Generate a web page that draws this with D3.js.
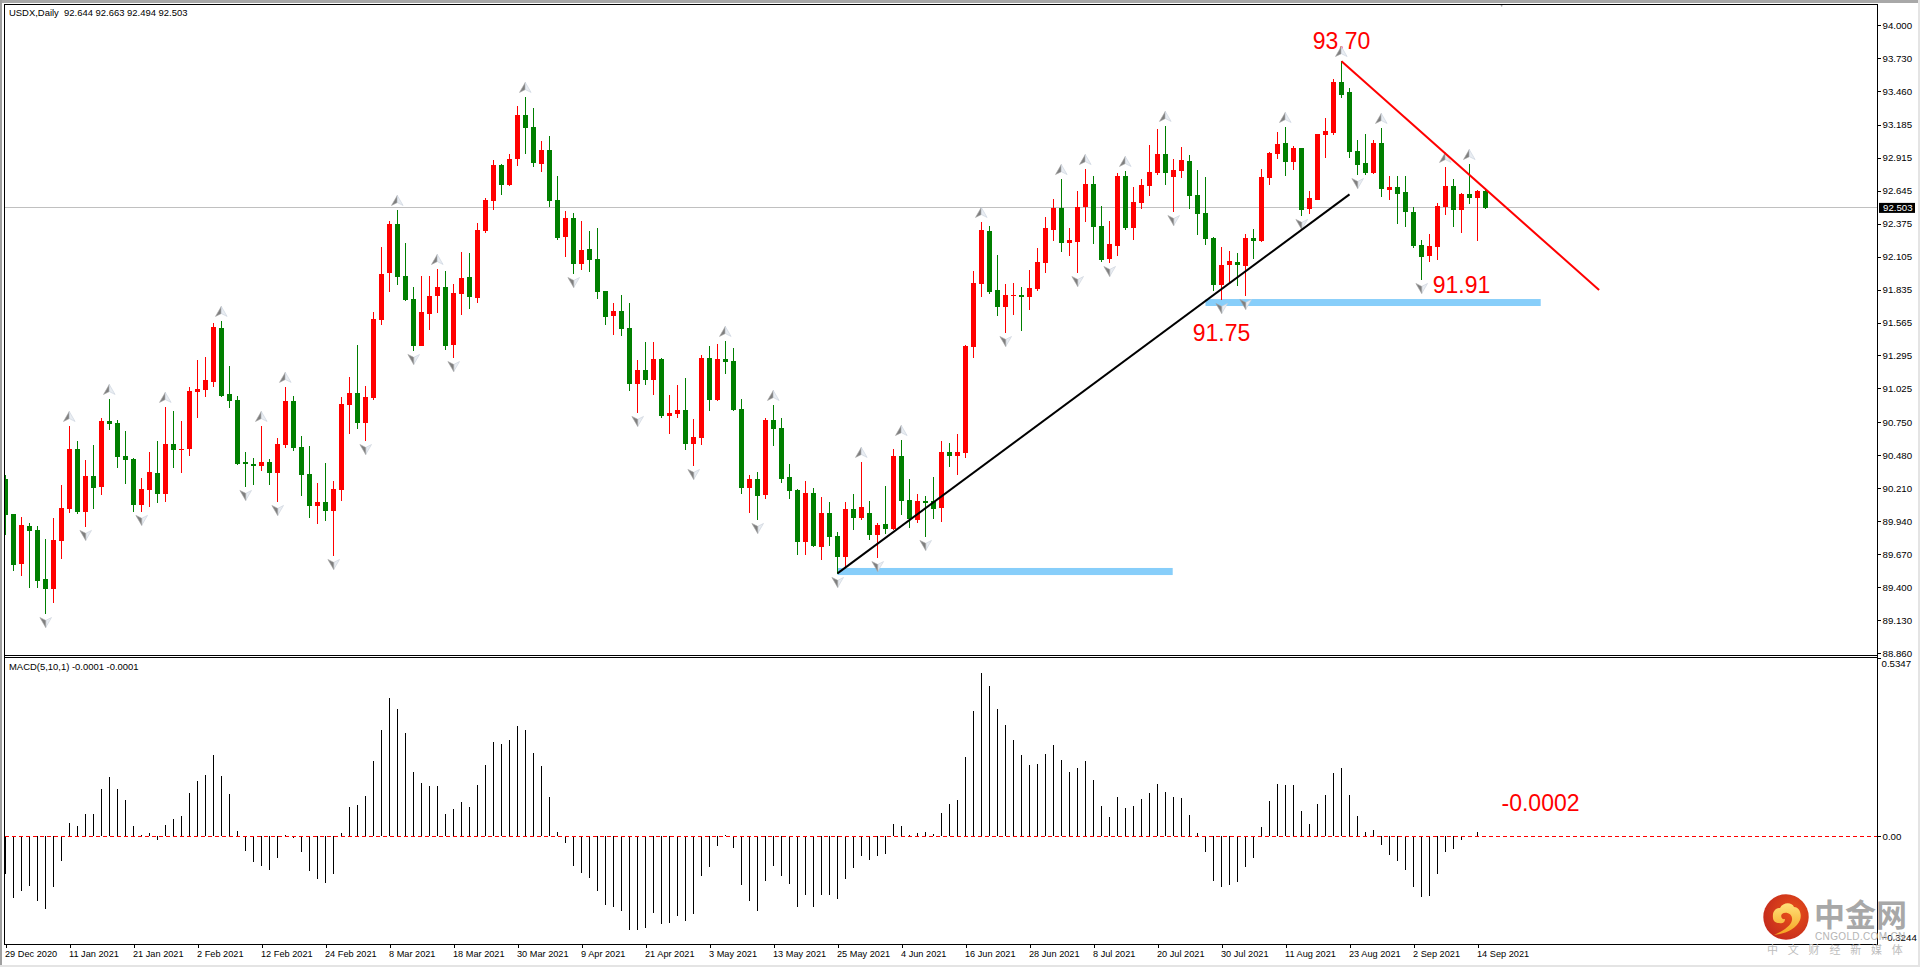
<!DOCTYPE html>
<html><head><meta charset="utf-8">
<script src="https://cdn.jsdelivr.net/npm/d3@7/dist/d3.min.js"></script>
<style>
html,body{margin:0;padding:0;background:#fff;overflow:hidden}
svg{display:block}
text{font-family:"Liberation Sans",Arial,sans-serif;fill:#000}
</style></head><body>
<svg id="c" width="1920" height="967"></svg>
<script>
const title = "USDX,Daily  92.644 92.663 92.494 92.503";
const macdTitle = "MACD(5,10,1) -0.0001 -0.0001";
const dateLabels = ["29 Dec 2020","11 Jan 2021","21 Jan 2021","2 Feb 2021","12 Feb 2021","24 Feb 2021","8 Mar 2021","18 Mar 2021","30 Mar 2021","9 Apr 2021","21 Apr 2021","3 May 2021","13 May 2021","25 May 2021","4 Jun 2021","16 Jun 2021","28 Jun 2021","8 Jul 2021","20 Jul 2021","30 Jul 2021","11 Aug 2021","23 Aug 2021","2 Sep 2021","14 Sep 2021"];
const priceTicks = [94.000,93.730,93.460,93.185,92.915,92.645,92.375,92.105,91.835,91.565,91.295,91.025,90.750,90.480,90.210,89.940,89.670,89.400,89.130,88.860];
const macdTicks = [0.5347,0,-0.3244];
const lastPrice = 92.503;

const opens = [
90.284,89.998,89.588,89.900,89.867,89.465,89.383,89.777,90.038,90.530,
90.015,90.309,90.219,90.759,90.742,90.473,90.448,90.071,90.194,90.333,
90.161,90.570,90.522,90.530,90.997,91.013,91.079,91.520,90.980,90.931,
90.424,90.407,90.391,90.424,90.333,90.562,90.923,90.546,90.325,90.063,
90.096,90.023,90.194,90.890,90.988,90.742,90.948,91.586,91.970,92.371,
91.946,91.757,91.373,91.635,91.782,91.856,91.381,91.799,91.938,91.766,
92.314,92.560,92.854,92.691,92.903,93.263,93.165,92.862,92.977,92.568,
92.265,92.420,92.044,92.167,92.085,91.823,91.618,91.659,91.520,91.062,
91.176,91.095,91.266,90.800,90.816,90.849,90.570,90.620,91.274,90.931,
91.266,91.250,90.857,90.211,90.284,90.153,90.767,90.702,90.301,90.194,
89.769,90.169,89.728,90.006,89.818,89.646,90.038,89.965,90.006,89.826,
89.916,89.875,90.473,90.112,89.949,90.104,90.104,90.047,90.506,90.473,
90.498,91.365,91.880,92.314,91.831,91.692,91.782,91.790,91.774,91.840,
92.052,92.322,92.502,92.216,92.224,92.511,92.699,92.355,92.085,92.191,
92.764,92.338,92.543,92.682,92.789,92.944,92.756,92.805,92.887,92.609,
92.461,92.256,91.872,92.036,92.060,92.028,92.256,92.232,92.748,92.944,
93.034,92.879,92.993,92.494,92.568,93.100,93.116,93.534,93.452,92.969,
92.871,92.789,93.034,92.650,92.674,92.633,92.470,92.199,92.109,92.183,
92.511,92.682,92.486,92.617,92.584,92.644];
const closes = [
89.990,89.580,89.908,89.859,89.449,89.383,89.785,90.047,90.530,90.015,
90.309,90.211,90.759,90.734,90.465,90.440,90.071,90.202,90.342,90.161,
90.570,90.522,90.530,91.005,91.021,91.095,91.529,90.964,90.923,90.407,
90.407,90.391,90.424,90.333,90.570,90.923,90.538,90.317,90.063,90.096,
90.023,90.202,90.898,90.988,90.742,90.956,91.594,91.962,92.371,91.938,
91.749,91.373,91.651,91.782,91.856,91.373,91.807,91.929,91.774,92.322,
92.568,92.854,92.691,92.903,93.263,93.157,92.871,92.977,92.560,92.256,
92.420,92.044,92.159,92.077,91.815,91.610,91.659,91.512,91.062,91.176,
91.095,91.266,90.800,90.825,90.849,90.570,90.628,91.274,90.931,91.266,
91.242,90.849,90.211,90.284,90.145,90.767,90.693,90.284,90.186,89.769,
90.169,89.736,90.006,89.810,89.646,90.038,89.965,90.055,89.826,89.908,
89.875,90.473,90.104,89.957,90.104,90.088,90.038,90.506,90.473,90.506,
91.373,91.889,92.322,91.815,91.692,91.790,91.790,91.774,91.848,92.060,
92.338,92.502,92.216,92.240,92.511,92.699,92.347,92.077,92.208,92.764,
92.338,92.551,92.691,92.797,92.944,92.789,92.813,92.895,92.600,92.453,
92.248,91.872,92.036,92.069,92.036,92.256,92.232,92.756,92.952,93.026,
92.879,92.993,92.486,92.584,93.108,93.133,93.534,93.427,92.960,92.854,
92.789,93.034,92.658,92.674,92.617,92.470,92.191,92.101,92.191,92.519,
92.682,92.486,92.617,92.584,92.642,92.503];
const highs = [
90.317,89.998,89.974,89.924,89.900,89.793,89.965,90.235,90.718,90.595,
90.440,90.562,90.783,90.939,90.767,90.677,90.457,90.292,90.506,90.595,
90.874,90.841,90.759,91.038,91.258,91.283,91.561,91.578,91.209,90.964,
90.506,90.457,90.718,90.448,90.620,91.038,90.964,90.636,90.554,90.251,
90.415,90.268,90.956,91.119,91.381,91.046,91.651,92.183,92.396,92.486,
92.216,91.856,91.946,91.946,92.003,91.987,91.880,92.142,92.134,92.380,
92.584,92.895,92.862,92.944,93.337,93.411,93.320,93.051,93.092,92.764,
92.478,92.461,92.396,92.314,92.338,91.823,91.725,91.790,91.725,91.258,
91.406,91.406,91.274,90.972,91.054,91.111,90.775,91.299,91.373,91.389,
91.414,91.356,90.939,90.317,90.342,90.783,90.890,90.783,90.407,90.202,
90.268,90.211,90.137,90.096,89.851,90.096,90.161,90.424,90.104,89.924,
90.227,90.530,90.603,90.284,90.161,90.145,90.301,90.595,90.579,90.652,
91.381,91.987,92.388,92.355,92.118,91.880,91.888,91.856,91.995,92.175,
92.428,92.576,92.739,92.338,92.641,92.821,92.764,92.519,92.396,92.789,
92.805,92.674,92.739,93.018,93.149,93.174,92.903,93.001,92.936,92.813,
92.756,92.265,92.183,92.150,92.134,92.290,92.330,92.821,92.960,93.124,
93.165,93.010,92.993,92.641,93.108,93.239,93.558,93.705,93.484,93.059,
93.108,93.059,93.157,92.764,92.764,92.764,92.511,92.240,92.289,92.543,
92.838,92.739,92.625,92.862,92.650,92.663];
const lows = [
89.826,89.531,89.490,89.392,89.392,89.179,89.269,89.629,90.006,89.998,
89.892,90.038,90.153,90.685,90.374,90.243,90.015,90.015,90.055,90.088,
90.096,90.374,90.333,90.473,90.783,90.956,91.038,90.956,90.866,90.399,
90.219,90.235,90.350,90.235,90.096,90.538,90.514,90.145,89.965,89.916,
89.941,89.654,90.104,90.652,90.693,90.595,90.931,91.545,91.815,91.872,
91.741,91.332,91.373,91.504,91.643,91.340,91.274,91.627,91.676,91.725,
92.298,92.486,92.609,92.682,92.846,92.944,92.838,92.797,92.511,92.240,
92.101,91.962,91.995,91.979,91.757,91.545,91.463,91.455,91.005,90.825,
91.054,90.972,90.783,90.652,90.783,90.522,90.391,90.562,90.841,90.923,
91.144,90.841,90.161,90.006,89.949,90.120,90.554,90.251,90.120,89.662,
89.662,89.728,89.621,89.736,89.507,89.555,89.867,89.949,89.785,89.637,
89.834,89.867,89.990,89.883,89.924,89.810,89.957,89.933,90.383,90.317,
90.457,91.274,91.774,91.799,91.618,91.479,91.627,91.496,91.667,91.823,
91.970,92.232,92.142,92.109,91.970,92.388,92.208,92.060,92.052,92.109,
92.322,92.240,92.494,92.600,92.772,92.691,92.469,92.748,92.494,92.281,
92.200,91.823,91.749,91.880,91.864,91.782,92.085,92.224,92.691,92.903,
92.764,92.813,92.437,92.453,92.568,92.911,93.100,93.403,92.911,92.772,
92.772,92.781,92.592,92.568,92.372,92.347,92.175,91.913,92.060,92.077,
92.445,92.347,92.298,92.535,92.232,92.494];
const macd = [
-0.113,-0.185,-0.164,-0.149,-0.194,-0.218,-0.152,-0.074,0.040,0.031,
0.067,0.067,0.142,0.178,0.142,0.109,0.031,0.003,0.010,-0.011,
0.034,0.052,0.061,0.130,0.166,0.184,0.244,0.181,0.127,0.016,
-0.044,-0.077,-0.089,-0.101,-0.065,0.004,-0.005,-0.047,-0.104,-0.128,
-0.140,-0.113,0.010,0.088,0.094,0.121,0.226,0.319,0.415,0.382,
0.310,0.193,0.160,0.151,0.151,0.067,0.082,0.103,0.088,0.154,
0.214,0.283,0.277,0.289,0.331,0.319,0.250,0.211,0.118,0.013,
-0.020,-0.089,-0.110,-0.125,-0.164,-0.206,-0.212,-0.224,-0.281,-0.281,
-0.275,-0.230,-0.263,-0.260,-0.239,-0.254,-0.233,-0.119,-0.092,-0.029,
0.003,-0.035,-0.146,-0.194,-0.224,-0.134,-0.089,-0.119,-0.143,-0.212,
-0.176,-0.212,-0.176,-0.176,-0.188,-0.128,-0.095,-0.059,-0.071,-0.059,
-0.053,0.037,0.031,0.003,0.010,0.013,0.006,0.070,0.097,0.109,
0.238,0.376,0.490,0.451,0.382,0.334,0.289,0.244,0.214,0.217,
0.247,0.274,0.229,0.193,0.205,0.226,0.169,0.091,0.058,0.118,
0.085,0.091,0.112,0.130,0.157,0.133,0.118,0.115,0.064,0.010,
-0.047,-0.135,-0.153,-0.147,-0.138,-0.093,-0.066,0.027,0.105,0.156,
0.153,0.153,0.075,0.036,0.096,0.123,0.189,0.204,0.123,0.060,
0.012,0.018,-0.027,-0.057,-0.075,-0.102,-0.153,-0.183,-0.180,-0.114,
-0.048,-0.039,-0.012,-0.001,0.012,-0.0002];
const fractalUp = [8,13,20,27,32,35,49,54,65,90,96,107,112,122,132,135,140,145,160,167,172,180,183];
const fractalDown = [5,10,17,30,34,41,45,51,56,71,79,86,94,104,109,115,125,134,138,146,152,155,162,169,177];
const offChartDown = [{i:187, price:94.262}];
const blackTrend = [{i:104, price:89.512},{i:168, price:92.614}];
const redTrend = [{i:167, price:93.703},{i:199.2, price:91.831}];
const supportBands = [{i0:104, i1:145.9, top:89.556, bottom:89.498},{i0:150, i1:191.9, top:91.757, bottom:91.700}];
const notes = [
 {text:"93.70", i:163.4, price:93.801},
 {text:"91.91", i:178.4, price:91.804},
 {text:"91.75", i:148.4, price:91.411}
];
const macdNote = {text:"-0.0002", i:187, value:0.0751};

const UP="#ff0000", DOWN="#007f00";
const svg=d3.select("#c");
const x=d3.scaleLinear().domain([0,185]).range([5.5,1485.5]);
const y=d3.scaleLinear().domain([88.86,94]).range([653,25]);
const m=d3.scaleLinear().domain([-0.3244,0.5347]).range([944,658]);
const idx=d3.range(opens.length);

const defs=svg.append("defs");
defs.append("clipPath").attr("id","topClip").append("rect").attr("x",5).attr("y",5).attr("width",1872).attr("height",650);
const lg=defs.append("radialGradient").attr("id","logoG").attr("cx","65%").attr("cy","40%").attr("r","70%");
lg.append("stop").attr("offset","0%").attr("stop-color","#e8501a");
lg.append("stop").attr("offset","100%").attr("stop-color","#c42a1c");
const yg=defs.append("linearGradient").attr("id","swirlG").attr("x1","0").attr("y1","0").attr("x2","0").attr("y2","1");
yg.append("stop").attr("offset","0%").attr("stop-color","#ffe27a");
yg.append("stop").attr("offset","100%").attr("stop-color","#f5a21f");

// window frame
svg.append("rect").attr("x",0).attr("y",0).attr("width",1920).attr("height",3).attr("fill","#a8a8a8");
svg.append("rect").attr("x",0).attr("y",0).attr("width",2).attr("height",967).attr("fill","#a0a0a0");
svg.append("rect").attr("x",0).attr("y",965).attr("width",1920).attr("height",2).attr("fill","#e4e4e4");
svg.append("rect").attr("x",1918).attr("y",0).attr("width",2).attr("height",967).attr("fill","#e4e4e4");

const pane=svg.append("g").attr("clip-path","url(#topClip)");
// last price line
pane.append("line").attr("x1",5).attr("x2",1877).attr("y1",y(lastPrice)).attr("y2",y(lastPrice))
  .attr("stroke","#c0c0c0").attr("stroke-width",1).attr("shape-rendering","crispEdges");
// support bands
pane.selectAll("rect.band").data(supportBands).join("rect").attr("class","band")
  .attr("x",d=>x(d.i0)).attr("width",d=>x(d.i1)-x(d.i0))
  .attr("y",d=>y(d.top)).attr("height",d=>y(d.bottom)-y(d.top)).attr("fill","#87cefa");
// candles
const col=i=>closes[i]>opens[i]?UP:DOWN;
const cg=pane.append("g").attr("shape-rendering","crispEdges");
cg.selectAll("rect.w").data(idx).join("rect").attr("class","w")
  .attr("x",i=>x(i)-0.5).attr("width",1).attr("y",i=>y(highs[i])).attr("height",i=>y(lows[i])-y(highs[i])).attr("fill",col);
cg.selectAll("rect.b").data(idx).join("rect").attr("class","b")
  .attr("x",i=>x(i)-2.5).attr("width",5)
  .attr("y",i=>y(Math.max(opens[i],closes[i])))
  .attr("height",i=>Math.max(1,Math.abs(y(opens[i])-y(closes[i])))).attr("fill",col);
// notes sit under the fractal arrows, as in the reference
svg.selectAll("text.note").data(notes).join("text").attr("class","note")
  .attr("x",d=>x(d.i)).attr("y",d=>y(d.price)).text(d=>d.text)
  .style("font-size","23px").style("fill","#ff0000");
// fractal arrows
function arrow(g,dir){
  const s=dir; // +1 up arrow, -1 down arrow
  g.append("path").attr("d",`M${-0.2*s},${-5.5*s}L${-6*s},${4.5*s}L${-0.2*s},${1.6*s}Z`)
    .attr("fill",dir>0?"#7f7f7f":"#e9edf2").attr("stroke",dir>0?"#a5a5a5":"#c7ced8").attr("stroke-width",0.6);
  g.append("path").attr("d",`M${-0.2*s},${-5.5*s}L${5.6*s},${4.5*s}L${-0.2*s},${1.6*s}Z`)
    .attr("fill",dir>0?"#e9edf2":"#7f7f7f").attr("stroke",dir>0?"#c7d0dc":"#a5a5a5").attr("stroke-width",0.6);
}
const ag=svg.append("g").attr("clip-path","url(#topClip)");
ag.selectAll("g.u").data(fractalUp).join("g").attr("class","u")
  .attr("transform",i=>`translate(${x(i)},${y(highs[i])-9})`).each(function(){arrow(d3.select(this),1)});
ag.selectAll("g.d").data(fractalDown).join("g").attr("class","d")
  .attr("transform",i=>`translate(${x(i)},${y(lows[i])+8})`).each(function(){arrow(d3.select(this),-1)});
ag.selectAll("g.o").data(offChartDown).join("g").attr("class","o")
  .attr("transform",d=>`translate(${x(d.i)},${y(d.price)+8})`).each(function(){arrow(d3.select(this),-1)});
// trend lines
const ln=d3.line().x(d=>x(d.i)).y(d=>y(d.price));
const tl=svg.append("g").attr("clip-path","url(#topClip)");
tl.append("path").attr("d",ln(blackTrend)).attr("stroke","#000").attr("stroke-width",2).attr("fill","none");
tl.append("path").attr("d",ln(redTrend)).attr("stroke","#ff0000").attr("stroke-width",2).attr("fill","none");
svg.append("text").attr("x",x(macdNote.i)).attr("y",m(macdNote.value)).text(macdNote.text)
  .style("font-size","23px").style("fill","#ff0000");

// MACD
const mg=svg.append("g").attr("shape-rendering","crispEdges");
mg.selectAll("rect").data(idx).join("rect")
  .attr("x",i=>x(i)-0.5).attr("width",1)
  .attr("y",i=>Math.min(m(macd[i]),m(0))).attr("height",i=>Math.abs(m(macd[i])-m(0))).attr("fill","#000");
svg.append("line").attr("x1",5).attr("x2",1877).attr("y1",m(0)).attr("y2",m(0))
  .attr("stroke","#ff0000").attr("stroke-width",1).attr("stroke-dasharray","4 3").attr("shape-rendering","crispEdges");

// frames
const fr=svg.append("g").attr("shape-rendering","crispEdges").attr("fill","none").attr("stroke","#000").attr("stroke-width",1);
fr.append("path").attr("d","M4.5,945V4.5H1877.5V945");
fr.append("path").attr("d","M4.5,655.5H1877.5M4.5,657.5H1877.5M4.5,944.5H1877.5");

// axes
function styleAxis(g,size){
  g.select(".domain").remove();
  g.selectAll("line").attr("stroke","#000").attr("shape-rendering","crispEdges");
  g.selectAll("text").style("font-size",size).style("fill","#000");
}
svg.append("g").attr("transform","translate(1877.5,0)")
  .call(d3.axisRight(y).tickValues(priceTicks).tickFormat(d3.format(".3f")).tickSize(3).tickPadding(2)).call(styleAxis,"9.7px");
const ma=svg.append("g").attr("transform","translate(1877.5,0)")
  .call(d3.axisRight(m).tickValues(macdTicks).tickFormat(d=>d===0?"0.00":d3.format(".4f")(d)).tickSize(3).tickPadding(2)).call(styleAxis,"9.7px");
ma.selectAll("text").attr("x",d=>d===0?5:4).attr("dy",d=>d>0?"0.85em":d<0?"-0.35em":"0.32em");
ma.selectAll("line").attr("stroke",d=>d<0?"none":"#000");
const xa=svg.append("g").attr("transform","translate(0,944.5)")
  .call(d3.axisBottom(x).tickValues(dateLabels.map((d,k)=>k*8)).tickFormat(v=>dateLabels[v/8]).tickSize(3).tickPadding(3)).call(styleAxis,"9.2px");
xa.selectAll("text").attr("text-anchor","start").attr("x",-1);

// last price tag
svg.append("rect").attr("x",1879).attr("y",y(lastPrice)-5).attr("width",36).attr("height",10).attr("fill","#000");
svg.append("text").attr("x",1883).attr("y",y(lastPrice)+3.5).text(d3.format(".3f")(lastPrice)).style("font-size","9.7px").style("fill","#fff");

// titles
svg.append("text").attr("x",9).attr("y",16).text(title).attr("xml:space","preserve").style("white-space","pre").style("font-size","9.45px");
svg.append("text").attr("x",9).attr("y",670).text(macdTitle).style("font-size","9.45px");

// watermark
const wm=svg.append("g");
const logo=wm.append("g").attr("transform","translate(1786,917)");
logo.append("circle").attr("r",22.7).attr("fill","url(#logoG)");
logo.append("path").attr("d","M-13,1C-14,-7-9,-9-6,-9C-3,-15 6,-15 8,-10C14,-10 16,-2 14,3C11,11 0,17-12,18C-3,14 5,9 6,3C7,-3 0,-6-4,-3C-6,-1-4,3-1,2C-1,6-4,7-7,6C-10,6-13,4-13,1Z").attr("fill","url(#swirlG)");
wm.append("text").attr("x",1814).attr("y",926).text("中金网")
  .style("font-family","'Noto Sans CJK SC'").style("font-weight","700").style("font-size","31px").style("fill","#a8a8a8");
wm.append("text").attr("x",1815).attr("y",940).text("CNGOLD.COM.CN").style("font-size","10px").style("letter-spacing","0.35px").style("fill","#b4b4b4");
wm.append("text").attr("x",1767).attr("y",953.5).text("中文财经新媒体")
  .style("font-family","'Noto Sans CJK SC'").style("font-size","11px").style("letter-spacing","9.8px").style("fill","#bdbdbd");
</script></body></html>
